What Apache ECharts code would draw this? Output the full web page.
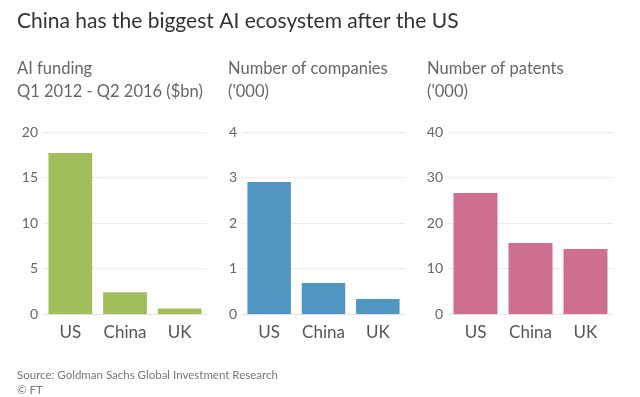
<!DOCTYPE html>
<html>
<head>
<meta charset="utf-8">
<script src="https://cdn.jsdelivr.net/npm/echarts@6/dist/echarts.min.js"></script>
<style>
  html, body { margin: 0; padding: 0; background: #fff; }
  #chart { width: 640px; height: 397px; }
</style>
</head>
<body>
<div id="chart"></div>
<script>
const categories = ['US', 'China', 'UK'];
const funding = [17.7, 2.4, 0.6];
const companies = [2.9, 0.68, 0.33];
const patents = [26.6, 15.6, 14.3];
const yMax = [20, 4, 40];
const yStep = [5, 1, 10];

const colors = ['#a2be5c', '#4f96c2', '#cf6f8f'];
const font = 'Lato';
const panels = [
    { left: 43, width: 164, data: funding },
    { left: 242, width: 163, data: companies },
    { left: 448, width: 165, data: patents }
];

const chart = echarts.init(document.getElementById('chart'));

const subStyle = { fontSize: 16.5, fontWeight: 'normal', color: '#666', lineHeight: 23, fontFamily: font };

const options = {
    backgroundColor: '#fff',
    animation: false,
    textStyle: { fontFamily: font },
    title: [
        { text: 'China has the biggest AI ecosystem after the US', left: 17, top: 11, padding: 0,
          textStyle: { fontSize: 21, fontWeight: 'normal', color: '#333', fontFamily: font } },
        { text: 'AI funding\nQ1 2012 - Q2 2016 ($bn)', left: 17, top: 57, padding: 0, textStyle: subStyle },
        { text: 'Number of companies\n(\'000)', left: 228, top: 57, padding: 0, textStyle: subStyle },
        { text: 'Number of patents\n(\'000)', left: 427, top: 57, padding: 0, textStyle: subStyle },
        { text: 'Source: Goldman Sachs Global Investment Research\n\u00a9 FT', left: 17, top: 368, padding: 0,
          textStyle: { fontSize: 11.5, fontWeight: 'normal', color: '#777', lineHeight: 15, fontFamily: font } }
    ],
    grid: panels.map(p => ({ left: p.left, width: p.width, top: 132, height: 182 })),
    xAxis: panels.map((p, i) => ({
        type: 'category',
        gridIndex: i,
        data: categories,
        axisLine: { lineStyle: { color: '#e2e2e2' } },
        axisTick: { show: false },
        axisLabel: { color: '#555', fontSize: 17, margin: 10, interval: 0, fontFamily: font }
    })),
    yAxis: panels.map((p, i) => ({
        type: 'value',
        gridIndex: i,
        min: 0,
        max: yMax[i],
        interval: yStep[i],
        axisLine: { show: false },
        axisTick: { show: false },
        splitLine: { lineStyle: { color: '#ececec' } },
        axisLabel: { color: '#666', fontSize: 14, margin: 5, fontFamily: font }
    })),
    series: panels.map((p, i) => ({
        type: 'bar',
        xAxisIndex: i,
        yAxisIndex: i,
        data: p.data,
        barCategoryGap: '20%',
        itemStyle: { color: colors[i] }
    }))
};

chart.setOption(options);
window.addEventListener('resize', chart.resize);
</script>
</body>
</html>
